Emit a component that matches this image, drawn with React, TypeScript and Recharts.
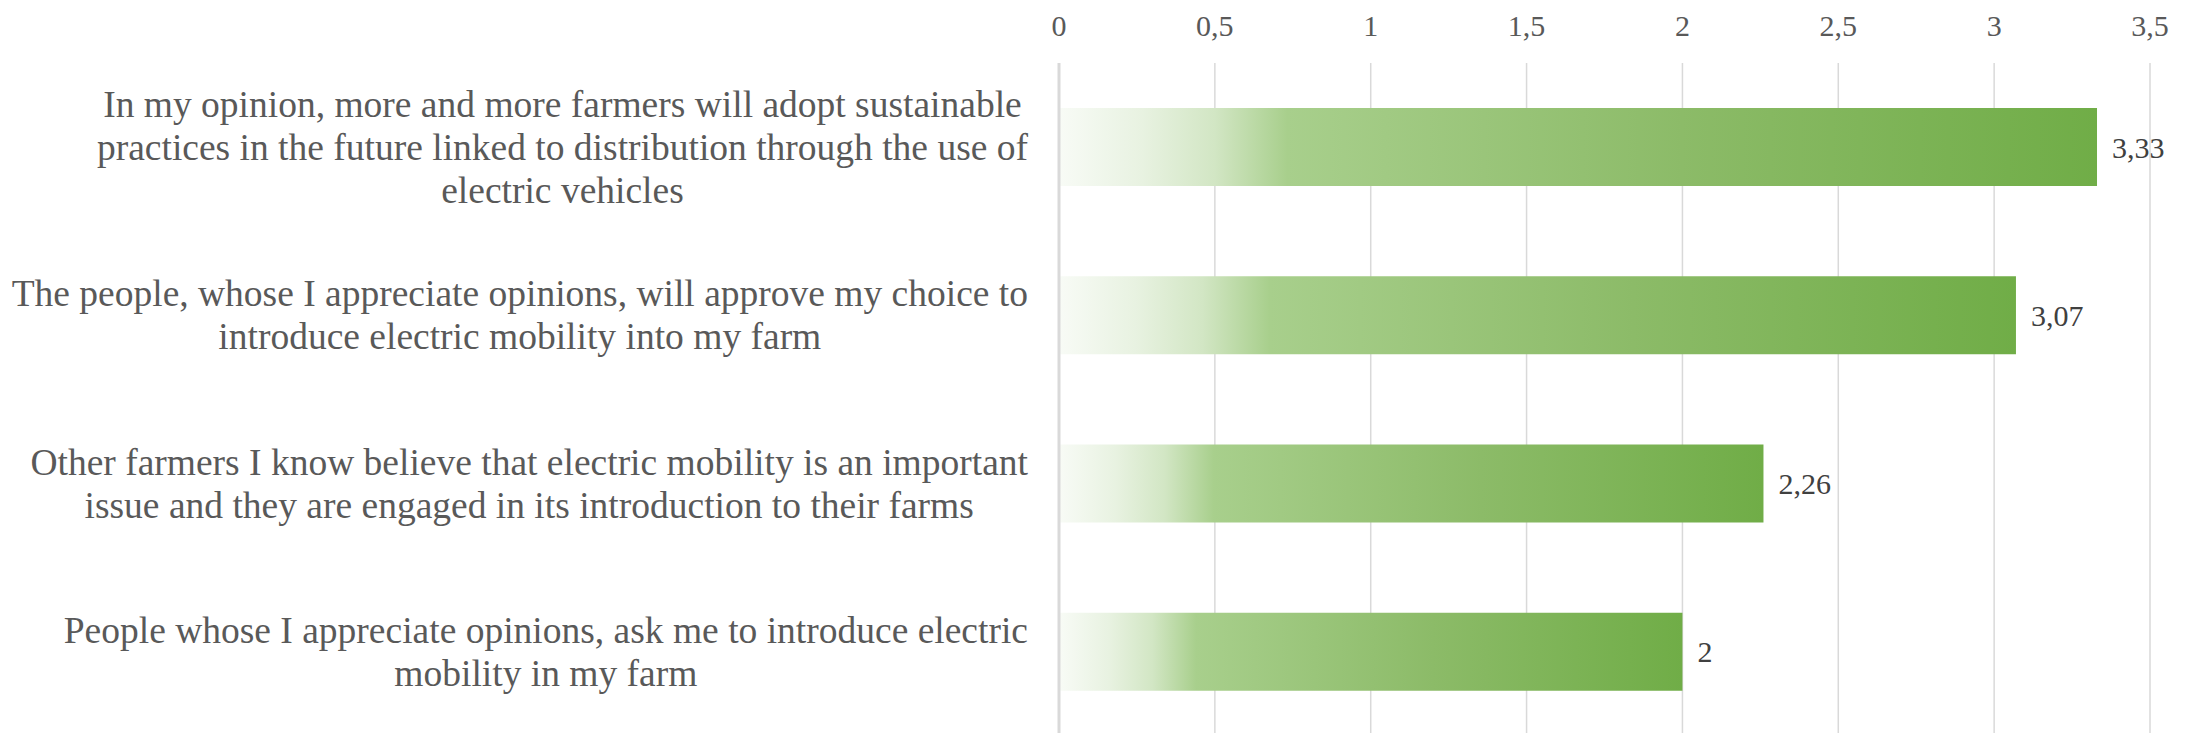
import React from "react";
import { BarChart, Bar, XAxis, YAxis, CartesianGrid, LabelList } from "recharts";

const categories = [
  "In my opinion, more and more farmers will adopt sustainable practices in the future linked to distribution through the use of electric vehicles",
  "The people, whose I appreciate opinions, will approve my choice to introduce electric mobility into my farm",
  "Other farmers I know believe that electric mobility is an important issue and they are engaged in its introduction to their farms",
  "People whose I appreciate opinions, ask me to introduce electric mobility in my farm",
];
const categoryLines = [
  ["In my opinion, more and more farmers will adopt sustainable", "practices in the future linked to distribution through the use of", "electric vehicles"],
  ["The people, whose I appreciate opinions, will approve my choice to", "introduce electric mobility into my farm"],
  ["Other farmers I know believe that electric mobility is an important", "issue and they are engaged in its introduction to their farms"],
  ["People whose I appreciate opinions, ask me to introduce electric", "mobility in my farm"],
];
const values = [3.33, 3.07, 2.26, 2];
const xTicks = [0, 0.5, 1, 1.5, 2, 2.5, 3, 3.5];

const data = categories.map((name, i) => ({ name, value: values[i], lines: categoryLines[i] }));

const FONT = '"Liberation Serif", "DejaVu Serif", serif';
const LABEL_SIZE = 37.5;
const LINE_H = 43;

let ctx: CanvasRenderingContext2D | null = null;
function measure(text: string, size: number) {
  if (!ctx) {
    const c = document.createElement("canvas");
    ctx = c.getContext("2d");
  }
  if (!ctx) return text.length * size * 0.45;
  ctx.font = `${size}px ${FONT}`;
  return ctx.measureText(text).width;
}

const fmt = (v: number) => String(v).replace(".", ",");

const CategoryTick = (props: any) => {
  const { x, y, payload } = props;
  const idx = categories.indexOf(payload.value);
  const lines = idx >= 0 ? categoryLines[idx] : [String(payload.value)];
  const blockW = Math.max(...lines.map((l) => measure(l, LABEL_SIZE)));
  const cx = x - blockW / 2;
  const startY = y - ((lines.length - 1) * LINE_H) / 2;
  return (
    <g>
      {lines.map((l, i) => (
        <text
          key={i}
          x={cx}
          y={startY + i * LINE_H}
          textAnchor="middle"
          dominantBaseline="central"
          fill="#595959"
          fontSize={LABEL_SIZE}
          fontFamily={FONT}
        >
          {l}
        </text>
      ))}
    </g>
  );
};

const ValueTick = (props: any) => {
  const { x, payload } = props;
  return (
    <text x={x} y={25} textAnchor="middle" dominantBaseline="central" fill="#595959" fontSize={30} fontFamily={FONT}>
      {fmt(payload.value)}
    </text>
  );
};

export default function App() {
  return (
    <div style={{ position: "absolute", left: 0, top: 0, width: 2193, height: 736, background: "#fff" }}>
      <BarChart
        width={2193}
        height={736}
        data={data}
        layout="vertical"
        margin={{ top: 0, right: 43, bottom: 0, left: 0 }}
        barSize={78}
      >
        <defs>
          <linearGradient id="barGrad" x1="0" y1="0" x2="1" y2="0">
            <stop offset="0" stopColor="#f8fbf6" />
            <stop offset="0.08" stopColor="#e8f2e1" />
            <stop offset="0.15" stopColor="#d2e6c4" />
            <stop offset="0.22" stopColor="#a8cf8c" />
            <stop offset="0.6" stopColor="#8cbb68" />
            <stop offset="1" stopColor="#70ad47" />
          </linearGradient>
        </defs>
        <CartesianGrid horizontal={false} vertical={true} stroke="#d9d9d9" strokeWidth={1.5} />
        <XAxis
          type="number"
          orientation="top"
          domain={[0, 3.5]}
          ticks={xTicks}
          height={63}
          axisLine={false}
          tickLine={false}
          tick={<ValueTick />}
          interval={0}
        />
        <YAxis
          type="category"
          dataKey="name"
          width={1059}
          axisLine={{ stroke: "#d9d9d9", strokeWidth: 3 }}
          tickLine={false}
          tickSize={0}
          tickMargin={31}
          tick={<CategoryTick />}
          interval={0}
        />
        <Bar dataKey="value" fill="url(#barGrad)" isAnimationActive={false}>
          <LabelList
            dataKey="value"
            position="right"
            offset={15}
            formatter={(v: any) => fmt(v)}
            fill="#404040"
            fontSize={30}
            fontFamily={FONT}
          />
        </Bar>
      </BarChart>
    </div>
  );
}
